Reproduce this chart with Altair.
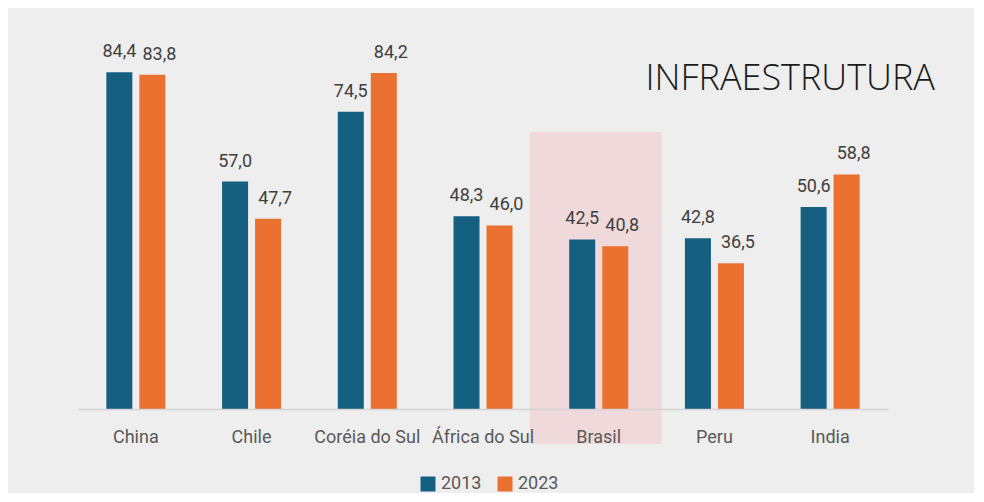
import altair as alt
import pandas as pd

countries = ["China", "Chile", "Coréia do Sul", "África do Sul", "Brasil", "Peru", "India"]
v2013 = [84.4, 57.0, 74.5, 48.3, 42.5, 42.8, 50.6]
v2023 = [83.8, 47.7, 84.2, 46.0, 40.8, 36.5, 58.8]
series = ["2013", "2023"]
colors = ["#155f80", "#eb7131"]

highlight_country = ["Brasil"]
highlight_top = [69.4]
highlight_bottom = [-8.8]

rows = []
for c, a, b in zip(countries, v2013, v2023):
    rows.append({"pais": c, "ano": "2013", "valor": a})
    rows.append({"pais": c, "ano": "2023", "valor": b})
df = pd.DataFrame(rows)
hl = pd.DataFrame({"pais": highlight_country, "top": highlight_top, "bottom": highlight_bottom})

FONT = "Roboto"

xscale = alt.Scale(domain=countries, paddingInner=0.49, paddingOuter=0.245)
yscale = alt.Scale(domain=[0, 100], nice=False)
offscale = alt.Scale(domain=series, paddingInner=0.212)

xenc = alt.X("pais:N", scale=xscale, sort=countries,
             axis=alt.Axis(title=None, labelAngle=0, ticks=False, domainColor="#d4d4d4",
                           domainWidth=1.5, labelFont=FONT, labelFontSize=18,
                           labelColor="#595959", labelPadding=19, grid=False, zindex=1))

highlight = alt.Chart(hl).mark_bar(color="#f0d9da", size=132, clip=False, xOffset=-3).encode(
    x=xenc,
    y=alt.Y("top:Q", scale=yscale, axis=None),
    y2="bottom:Q",
)

bars = alt.Chart(df).mark_bar().encode(
    x=xenc,
    xOffset=alt.XOffset("ano:N", scale=offscale),
    y=alt.Y("valor:Q", scale=yscale, axis=None),
    color=alt.Color("ano:N", scale=alt.Scale(domain=series, range=colors),
                    legend=alt.Legend(title=None, orient="none", direction="horizontal",
                                      legendX=341, legendY=465,
                                      symbolType="square", symbolSize=225, symbolStrokeWidth=0,
                                      labelFont=FONT, labelFontSize=18, labelColor="#595959",
                                      columnPadding=14, labelOffset=4)),
)

def label_layer(year, dx):
    return alt.Chart(df).transform_filter(
        alt.datum.ano == year
    ).transform_calculate(
        txt="replace(format(datum.valor, '.1f'), '.', ',')",
    ).mark_text(baseline="bottom", dy=-11, dx=dx, font=FONT, fontSize=18, color="#404040").encode(
        x=xenc,
        xOffset=alt.XOffset("ano:N", scale=offscale),
        y=alt.Y("valor:Q", scale=yscale, axis=None),
        text="txt:N",
    )

labels13 = label_layer("2013", 0)
labels23 = label_layer("2023", 7)

title = alt.Chart(pd.DataFrame({"t": ["INFRAESTRUTURA"]})).mark_text(
    align="right", baseline="alphabetic", font="Open Sans", fontWeight=300,
    fontSize=36, color="#1a1a1a"
).encode(x=alt.value(857), y=alt.value(80), text="t:N")

chart = alt.layer(highlight, bars, labels13, labels23, title).properties(
    width=810, height=399,
    background="#eeeeee",
    padding={"left": 70, "top": 2, "right": 86, "bottom": 84},
    autosize=alt.AutoSizeParams(type="none"),
).configure_view(stroke=None)

chart.save("out.html", embed_options={"renderer": "svg", "actions": False})
